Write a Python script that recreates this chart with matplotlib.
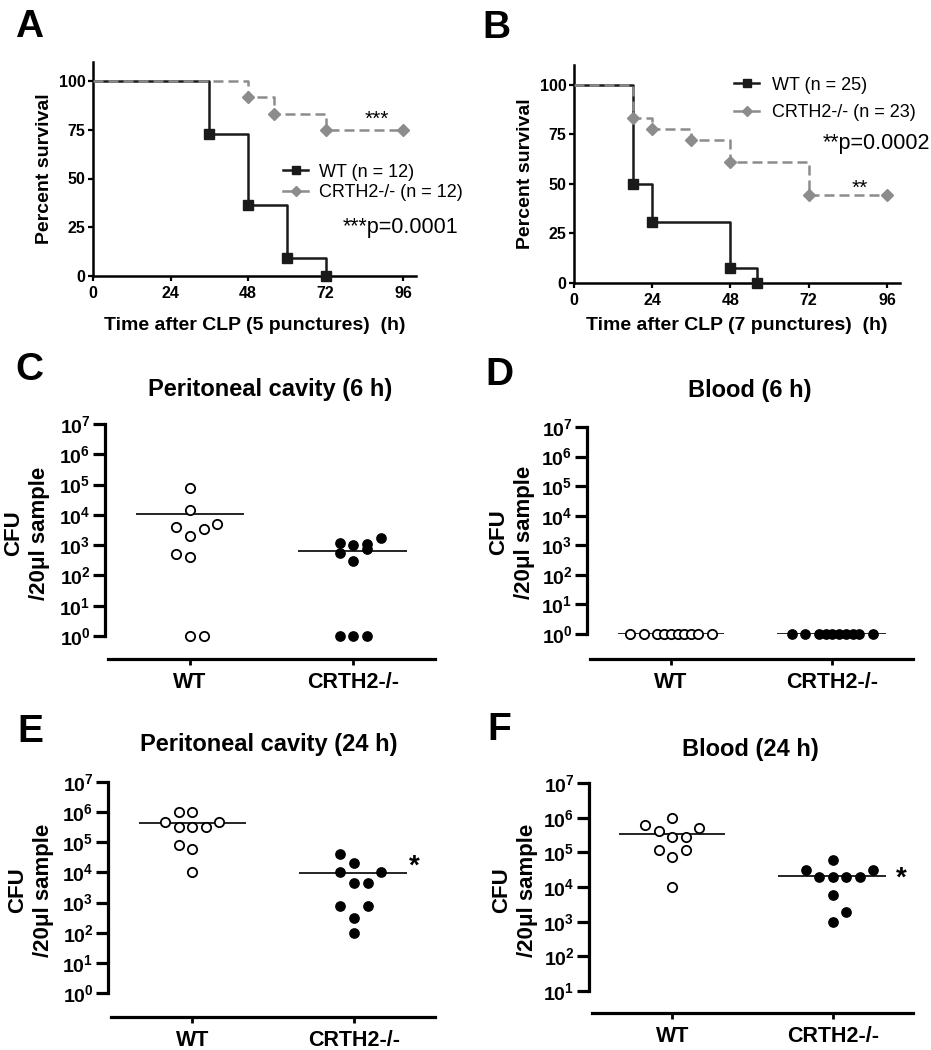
import matplotlib
matplotlib.use('Agg')
import matplotlib.pyplot as plt
import numpy as np
from matplotlib.ticker import NullLocator

plt.rcParams['font.family'] = ['Liberation Sans', 'DejaVu Sans']
plt.rcParams['mathtext.fontset'] = 'custom'
plt.rcParams['mathtext.rm'] = 'Liberation Sans'
plt.rcParams['mathtext.bf'] = 'Liberation Sans:bold'

# ---- survival data (Kaplan-Meier steps) ----
a_wt_t = [0, 36, 48, 60, 72]
a_wt_s = [100, 72.7, 36.4, 9.1, 0]
a_ko_t = [0, 48, 56, 72, 96]
a_ko_s = [100, 91.7, 83.3, 75, 75]

b_wt_t = [0, 18, 24, 48, 56]
b_wt_s = [100, 50, 30.8, 7.7, 0]
b_ko_t = [0, 18, 24, 36, 48, 72, 96]
b_ko_s = [100, 83.3, 77.8, 72.2, 61.1, 44.4, 44.4]

time_ticks = [0, 24, 48, 72, 96]
surv_ticks = [0, 25, 50, 75, 100]

# ---- CFU data ----
groups = ['WT', 'CRTH2-/-']

c_wt = [8e4, 1.5e4, 4e3, 2e3, 3.5e3, 5e3, 5e2, 4e2, 1, 1]
c_ko = [1.2e3, 1e3, 1.1e3, 7.2e2, 1.7e3, 5.4e2, 3e2, 1, 1, 1]

d_wt = [1] * 10
d_ko = [1] * 10

e_wt = [1.05e6, 1.05e6, 4.8e5, 4.8e5, 3.3e5, 3.3e5, 3.3e5, 8.1e4, 5.9e4, 1e4]
e_ko = [4.1e4, 2.1e4, 1e4, 1e4, 4.3e3, 4.3e3, 7.8e2, 7.8e2, 3e2, 1e2]

f_wt = [1e6, 6.2e5, 4e5, 2.8e5, 2.8e5, 4.9e5, 1.17e5, 1.17e5, 7.5e4, 1e4]
f_ko = [6e4, 3e4, 3e4, 1.9e4, 1.9e4, 1.9e4, 1.9e4, 5.9e3, 1.9e3, 1e3]

# horizontal scatter slots (column layout of the dots)
c_wt_slot = [0, 0, -1, 0, 1, 2, -1, 0, 0, 1]
c_ko_slot = [-1, 0, 1, 1, 2, -1, 0, -1, 0, 1]
d_slot = [-3, -2, -1, -0.5, 0, 0.5, 1, 1.5, 2, 3]
e_wt_slot = [-1, 0, -2, 2, -1, 0, 1, -1, 0, 0]
e_ko_slot = [-1, 0, -1, 2, 0, 1, -1, 1, 0, 0]
f_wt_slot = [0, -2, -1, 0, 1, 2, -1, 1, 0, 0]
f_ko_slot = [0, -2, 3, -1, 0, 1, 2, 0, 1, 0]

W, H = 931, 1050
fig = plt.figure(figsize=(W / 100, H / 100), dpi=100)
fig.patch.set_facecolor('white')


def rect(l, t, r, b):
    return [l / W, 1 - b / H, (r - l) / W, (b - t) / H]


def ftext(x, y, s, **kw):
    fig.text(x / W, 1 - y / H, s, **kw)


GRAY = '#8c8c8c'


def surv_panel(r, wt_t, wt_s, ko_t, ko_s, xlabel, lpad):
    ax = fig.add_axes(r)
    ax.step(wt_t, wt_s, where='post', color='#1a1a1a', lw=1.8, zorder=2)
    ax.plot(wt_t[1:], wt_s[1:], 's', color='#1a1a1a', ms=6.5, zorder=3,
            clip_on=False)
    ax.step(ko_t, ko_s, where='post', color=GRAY, lw=1.8, dashes=(4, 2),
            zorder=4)
    ax.plot(ko_t[1:], ko_s[1:], 'D', color=GRAY, ms=6.3, zorder=5, clip_on=False)
    ax.set_xlim(0, 100)
    ax.set_ylim(0, 110)
    ax.set_xticks(time_ticks)
    ax.set_yticks(surv_ticks)
    for s in ['top', 'right']:
        ax.spines[s].set_visible(False)
    for s in ['left', 'bottom']:
        ax.spines[s].set_linewidth(1.8)
    ax.tick_params(direction='out', length=3.5, width=1.6, labelsize=11.5, pad=2)
    ax.tick_params(axis='x', pad=4)
    for lab in ax.get_xticklabels() + ax.get_yticklabels():
        lab.set_fontweight('bold')
    ax.set_xlabel(xlabel, fontsize=14, fontweight='bold', labelpad=lpad)
    ax.set_ylabel('Percent survival', fontsize=14, fontweight='bold', labelpad=4)
    # legend proxies
    h1, = ax.plot([], [], '-s', color='#1a1a1a', lw=1.8, ms=6)
    h2, = ax.plot([], [], '-D', color=GRAY, lw=1.8, ms=5.5)
    return ax, h1, h2


axA, h1, h2 = surv_panel(rect(93, 61.5, 416, 276), a_wt_t, a_wt_s, a_ko_t,
                         a_ko_s, 'Time after CLP (5 punctures)  (h)', 11)
axA.legend([h1, h2], ['WT (n = 12)', 'CRTH2-/- (n = 12)'], loc='center left',
           bbox_to_anchor=(0.56, 0.436), frameon=False, fontsize=13,
           handlelength=1.4, handletextpad=0.6, borderpad=0, labelspacing=0.2)
axA.text(77.4, 25, '***p=0.0001', fontsize=15.5, va='center', ha='left')
axA.text(88, 80.5, '***', fontsize=15, va='center', ha='center')

axB, h1, h2 = surv_panel(rect(574, 65, 900, 283), b_wt_t, b_wt_s, b_ko_t,
                         b_ko_s, 'Time after CLP (7 punctures)  (h)', 6)
axB.legend([h1, h2], ['WT (n = 25)', 'CRTH2-/- (n = 23)'], loc='center left',
           bbox_to_anchor=(0.463, 0.844), frameon=False, fontsize=13,
           handlelength=1.4, handletextpad=0.7, borderpad=0, labelspacing=0.6)
axB.text(76.4, 70.5, '**p=0.0002', fontsize=15.5, va='center', ha='left')
axB.text(87.7, 48, '**', fontsize=15, va='center', ha='center')


def dot_panel(r, wt, ko, wt_slot, ko_slot, ymin_exp, offset, star=None):
    ax = fig.add_axes(r)
    ax.set_yscale('log')
    ax.set_ylim(10 ** ymin_exp, 1e7)
    ax.set_xlim(-0.52, 1.5)
    step = 0.084
    ax.plot(np.array(wt_slot) * step, wt, 'o', mfc='white', mec='black',
            mew=1.3, ms=6.7, clip_on=False, zorder=3)
    ax.plot(1 + np.array(ko_slot) * step, ko, 'o', mfc='black', mec='black',
            ms=6.7, clip_on=False, zorder=3)
    ax.hlines(np.mean(wt), -0.33, 0.33, color='black', lw=1.2, zorder=2)
    ax.hlines(np.mean(ko), 1 - 0.34, 1 + 0.33, color='black', lw=1.2, zorder=2)
    for s in ['top', 'right']:
        ax.spines[s].set_visible(False)
    ax.spines['left'].set_linewidth(2.3)
    ax.spines['bottom'].set_linewidth(2.3)
    ax.spines['bottom'].set_position(('outward', offset))
    ax.spines['bottom'].set_bounds(-0.5, 1.5)
    exps = list(range(ymin_exp, 8))
    ax.set_yticks([10.0 ** k for k in exps])
    ax.set_yticklabels([r'$\mathbf{10^{%d}}$' % k for k in exps])
    ax.yaxis.set_minor_locator(NullLocator())
    ax.set_xticks([0, 1])
    ax.set_xticklabels(groups)
    ax.tick_params(axis='y', direction='out', length=9, width=2.3,
                   labelsize=14, pad=1.5)
    ax.tick_params(axis='x', direction='out', length=4, width=2,
                   labelsize=15.5, pad=5.5)
    for lab in ax.get_xticklabels():
        lab.set_fontweight('bold')
    if star is not None:
        ax.text(star[0], star[1], '*', fontsize=20, fontweight='bold',
                ha='center', va='center')
    return ax


dot_panel(rect(105, 424, 435, 636), c_wt, c_ko, c_wt_slot, c_ko_slot, 0, 16.5)
dot_panel(rect(587, 427, 913, 634), d_wt, d_ko, d_slot, d_slot, 0, 18)
dot_panel(rect(108, 782, 435, 993), e_wt, e_ko, e_wt_slot, e_ko_slot, 0, 17,
          star=(1.37, 1.6e4))
dot_panel(rect(589, 783, 913, 991), f_wt, f_ko, f_wt_slot, f_ko_slot, 1, 16,
          star=(1.425, 1.7e4))

# y labels for CFU panels
for (x, y) in [(27, 533), (512, 532), (31, 890), (515, 890)]:
    ftext(x, y, 'CFU\n/20\u03bcl sample', rotation=90, ha='center', va='center',
          fontsize=16, fontweight='bold', linespacing=1.3, multialignment='center')

# titles
ftext(270, 396, 'Peritoneal cavity (6 h)', ha='center', va='baseline',
      fontsize=17, fontweight='bold')
ftext(750, 397, 'Blood (6 h)', ha='center', va='baseline',
      fontsize=17, fontweight='bold')
ftext(269, 751, 'Peritoneal cavity (24 h)', ha='center', va='baseline',
      fontsize=17, fontweight='bold')
ftext(750, 756, 'Blood (24 h)', ha='center', va='baseline',
      fontsize=17, fontweight='bold')

# panel letters
for (x, y, s) in [(15, 37, 'A'), (482, 38, 'B'), (15, 380, 'C'),
                  (485, 385, 'D'), (17, 742, 'E'), (487, 740, 'F')]:
    ftext(x, y, s, fontsize=28, fontweight='bold', ha='left', va='baseline')

fig.savefig('out.png', dpi=100, facecolor='white')
